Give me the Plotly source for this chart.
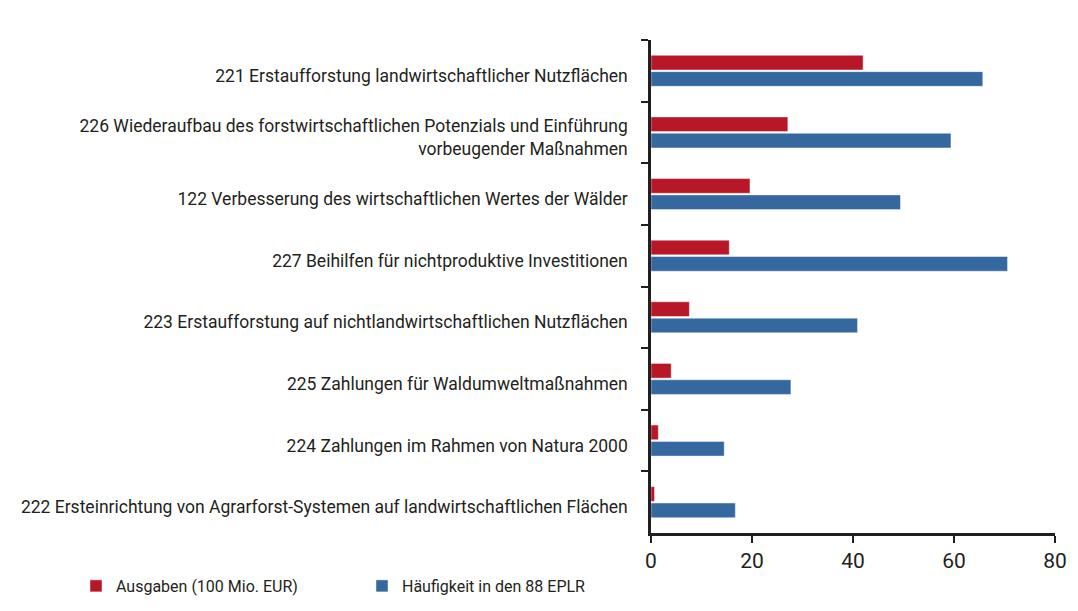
import plotly.graph_objects as go

categories = [
    "221 Erstaufforstung landwirtschaftlicher Nutzflächen",
    "226 Wiederaufbau des forstwirtschaftlichen Potenzials und Einführung<br>vorbeugender Maßnahmen",
    "122 Verbesserung des wirtschaftlichen Wertes der Wälder",
    "227 Beihilfen für nichtproduktive Investitionen",
    "223 Erstaufforstung auf nichtlandwirtschaftlichen Nutzflächen",
    "225 Zahlungen für Waldumweltmaßnahmen",
    "224 Zahlungen im Rahmen von Natura 2000",
    "222 Ersteinrichtung von Agrarforst-Systemen auf landwirtschaftlichen Flächen",
]
ausgaben = [42.0, 27.1, 19.6, 15.5, 7.6, 4.0, 1.45, 0.7]
haeufigkeit = [65.7, 59.4, 49.4, 70.6, 40.9, 27.7, 14.5, 16.7]
series_names = ["Ausgaben (100 Mio. EUR)", "Häufigkeit in den 88 EPLR"]
x_ticks = [0, 20, 40, 60, 80]

RED = "#B71727"
BLUE = "#35689E"
TXT = "#231F20"
FONT = "Roboto, sans-serif"

L, T, PW, PH = 643, 32, 404, 493
W, H = 1062, 595

fig = go.Figure()
fig.add_trace(go.Bar(y=categories, x=ausgaben, orientation="h", name=series_names[0],
                     marker=dict(color=RED, line=dict(color="rgba(255,255,255,0.45)", width=1))))
fig.add_trace(go.Bar(y=categories, x=haeufigkeit, orientation="h", name=series_names[1],
                     marker=dict(color=BLUE, line=dict(color="rgba(255,255,255,0.45)", width=1))))

fig.update_layout(
    width=W, height=H,
    margin=dict(l=L, r=W - L - PW, t=T, b=H - T - PH, autoexpand=False),
    paper_bgcolor="white", plot_bgcolor="white",
    barmode="group", bargap=0.47, bargroupgap=0.1,
    font=dict(family=FONT, color=TXT, size=17),
    showlegend=True,
    legend=dict(orientation="h", x=(68 - L) / PW, xanchor="left", y=-0.073, yanchor="top",
                font=dict(size=16, family=FONT, color=TXT),
                entrywidth=241, itemwidth=30, traceorder="normal"),
)
fig.update_xaxes(range=[0, 80], tickvals=x_ticks, showgrid=False, zeroline=False,
                 showline=True, linecolor=TXT, linewidth=2.5,
                 ticks="outside", ticklen=7, tickwidth=2, tickcolor=TXT,
                 tickfont=dict(size=21, family=FONT, color=TXT))
fig.update_yaxes(categoryorder="array", categoryarray=categories, autorange="reversed",
                 showgrid=False, zeroline=False, showline=True, linecolor=TXT, linewidth=2.5,
                 ticks="outside", ticklen=7, tickwidth=2, tickcolor=TXT,
                 tickson="boundaries", ticklabelstandoff=17, ticklabelshift=-5,
                 tickfont=dict(size=17.5, family=FONT, color=TXT))

fig.write_html("out.html")
